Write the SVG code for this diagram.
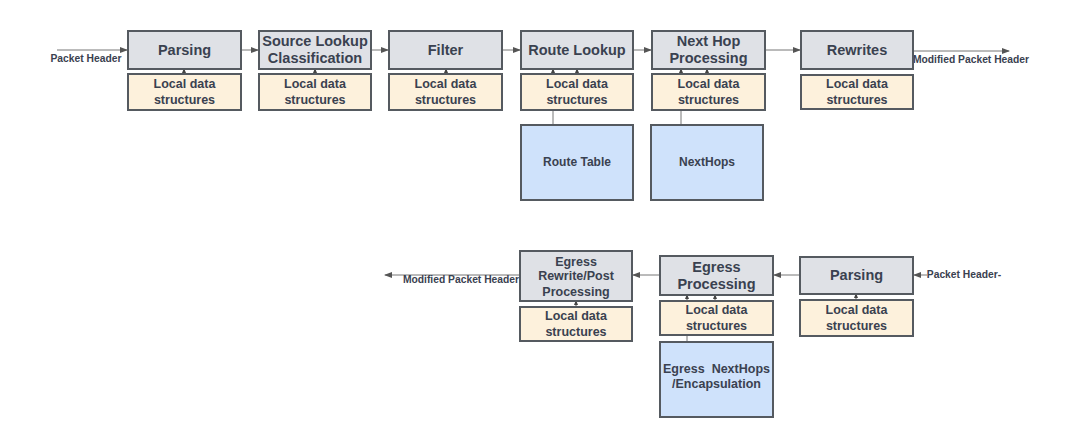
<svg xmlns="http://www.w3.org/2000/svg" width="1080" height="446" viewBox="0 0 1080 446">
<defs>
<marker id="ah" markerWidth="8" markerHeight="6" refX="7" refY="3" orient="auto" markerUnits="userSpaceOnUse">
<path d="M0,0 L8,3 L0,6 Z" fill="#555"/>
</marker>
<marker id="sh" markerWidth="5" markerHeight="4" refX="4" refY="2" orient="auto" markerUnits="userSpaceOnUse">
<path d="M0,0 L5,2 L0,4 Z" fill="#444"/>
</marker>
</defs>
<style>
.main{fill:#dfe1e6;stroke:#555a60;stroke-width:2}
.loc{fill:#fdf1dc;stroke:#555a60;stroke-width:2}
.blue{fill:#cfe2fb;stroke:#555a60;stroke-width:2}
text{font-family:"Liberation Sans",Arial,sans-serif;font-weight:bold;fill:#3a4150;text-anchor:middle}
.t1{font-size:14.5px}
.t2{font-size:12.5px}
.t3{font-size:10.3px}
.t4{font-size:12px}
.c{stroke:#777;stroke-width:1;fill:none}
.a{stroke:#777;stroke-width:1;fill:none;marker-end:url(#ah)}
.s{stroke:#555;stroke-width:1;fill:none;marker-end:url(#sh)}
</style>
<rect width="1080" height="446" fill="#fff"/>

<g id="connectors">
<line class="a" x1="57" y1="50" x2="127" y2="50"/>
<line class="a" x1="241" y1="50" x2="258" y2="50"/>
<line class="a" x1="371" y1="50" x2="388" y2="50"/>
<line class="a" x1="502" y1="50" x2="520" y2="50"/>
<line class="a" x1="633" y1="50" x2="651" y2="50"/>
<line class="a" x1="765" y1="50" x2="800" y2="50"/>
<line class="a" x1="913" y1="51" x2="1009" y2="51"/>
<line class="s" x1="184" y1="74" x2="184" y2="69"/>
<line class="s" x1="315" y1="74" x2="315" y2="69"/>
<line class="s" x1="446" y1="74" x2="446" y2="69"/>
<line class="s" x1="553" y1="74" x2="553" y2="69"/>
<line class="s" x1="577" y1="74" x2="577" y2="69"/>
<line class="s" x1="681" y1="74" x2="681" y2="69"/>
<line class="s" x1="707" y1="74" x2="707" y2="69"/>
<line class="c" x1="553" y1="110" x2="553" y2="125"/>
<line class="c" x1="681" y1="110" x2="681" y2="125"/>
<line class="a" x1="927" y1="275" x2="914" y2="275"/>
<line class="a" x1="800" y1="275" x2="774" y2="275"/>
<line class="a" x1="660" y1="275" x2="633" y2="275"/>
<line class="a" x1="520" y1="275" x2="385" y2="275"/>
<line class="s" x1="576" y1="307" x2="576" y2="301"/>
<line class="s" x1="687" y1="301" x2="687" y2="295"/>
<line class="s" x1="715" y1="301" x2="715" y2="295"/>
<line class="s" x1="856" y1="300" x2="856" y2="294"/>
<line class="c" x1="687" y1="335" x2="687" y2="342"/>
</g>

<g id="label-in">
<text class="t3" x="86" y="62">Packet Header</text>
</g>
<g id="label-out">
<text class="t3" x="971" y="63">Modified Packet Header</text>
</g>

<g id="parsing"><rect class="main" x="128" y="31" width="113" height="38"/><text class="t1" x="184.5" y="55">Parsing</text></g>
<g id="parsing-local"><rect class="loc" x="128" y="74" width="113" height="36"/><text class="t2" x="184.5" y="88">Local data</text><text class="t2" x="184.5" y="104">structures</text></g>

<g id="source-lookup"><rect class="main" x="259" y="31" width="112" height="38"/><text class="t1" x="315" y="46">Source Lookup</text><text class="t1" x="315" y="63">Classification</text></g>
<g id="source-local"><rect class="loc" x="259" y="74" width="112" height="36"/><text class="t2" x="315" y="88">Local data</text><text class="t2" x="315" y="104">structures</text></g>

<g id="filter"><rect class="main" x="389" y="31" width="113" height="38"/><text class="t1" x="445.5" y="55">Filter</text></g>
<g id="filter-local"><rect class="loc" x="389" y="74" width="113" height="36"/><text class="t2" x="445.5" y="88">Local data</text><text class="t2" x="445.5" y="104">structures</text></g>

<g id="route-lookup"><rect class="main" x="521" y="31" width="112" height="38"/><text class="t1" x="577" y="55">Route Lookup</text></g>
<g id="route-local"><rect class="loc" x="521" y="74" width="112" height="36"/><text class="t2" x="577" y="88">Local data</text><text class="t2" x="577" y="104">structures</text></g>

<g id="next-hop"><rect class="main" x="652" y="31" width="113" height="38"/><text class="t1" x="708.5" y="46">Next Hop</text><text class="t1" x="708.5" y="63">Processing</text></g>
<g id="nexthop-local"><rect class="loc" x="652" y="74" width="113" height="36"/><text class="t2" x="708.5" y="88">Local data</text><text class="t2" x="708.5" y="104">structures</text></g>

<g id="rewrites"><rect class="main" x="801" y="31" width="112" height="38"/><text class="t1" x="857" y="55">Rewrites</text></g>
<g id="rewrites-local"><rect class="loc" x="801" y="75" width="112" height="34"/><text class="t2" x="857" y="88">Local data</text><text class="t2" x="857" y="104">structures</text></g>

<g id="route-table"><rect class="blue" x="521" y="125" width="112" height="75"/><text class="t4" x="577" y="166">Route Table</text></g>
<g id="nexthops"><rect class="blue" x="651" y="125" width="112" height="75"/><text class="t4" x="707" y="166">NextHops</text></g>

<g id="label-out2">
<text class="t3" x="461" y="283">Modified Packet Header</text>
</g>
<g id="label-in2">
<text class="t3" x="964" y="278">Packet Header-</text>
</g>

<g id="egress-rewrite"><rect class="main" x="520" y="251" width="112" height="50"/><text class="t2" x="576" y="265.5">Egress</text><text class="t2" x="576" y="280">Rewrite/Post</text><text class="t2" x="576" y="295.5">Processing</text></g>
<g id="egress-rewrite-local"><rect class="loc" x="520" y="307" width="112" height="34"/><text class="t2" x="576" y="320">Local data</text><text class="t2" x="576" y="336">structures</text></g>

<g id="egress-processing"><rect class="main" x="660" y="256" width="113" height="39"/><text class="t1" x="716.5" y="272">Egress</text><text class="t1" x="716.5" y="289">Processing</text></g>
<g id="egress-processing-local"><rect class="loc" x="660" y="301" width="113" height="34"/><text class="t2" x="716.5" y="314">Local data</text><text class="t2" x="716.5" y="330">structures</text></g>

<g id="parsing2"><rect class="main" x="800" y="257" width="113" height="37"/><text class="t1" x="856.5" y="280">Parsing</text></g>
<g id="parsing2-local"><rect class="loc" x="800" y="300" width="113" height="36"/><text class="t2" x="856.5" y="314">Local data</text><text class="t2" x="856.5" y="330">structures</text></g>

<g id="egress-nexthops"><rect class="blue" x="660" y="342" width="113" height="75"/><text class="t2" x="716.5" y="373" xml:space="preserve">Egress  NextHops</text><text class="t2" x="716.5" y="388">/Encapsulation</text></g>
</svg>
